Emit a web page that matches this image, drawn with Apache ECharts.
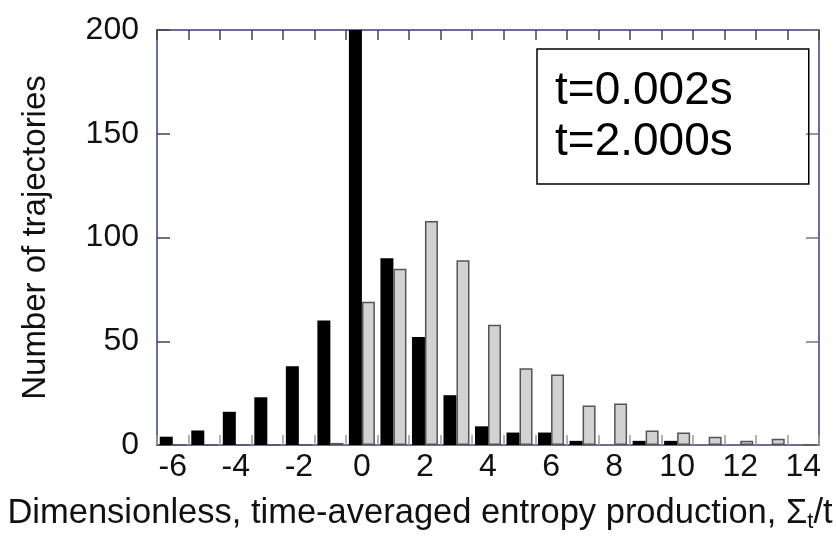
<!DOCTYPE html>
<html>
<head>
<meta charset="utf-8">
<script src="https://cdn.jsdelivr.net/npm/echarts@6/dist/echarts.min.js"></script>
<style>
  html, body { margin: 0; padding: 0; background: #fff; }
  #chart { width: 836px; height: 538px; }
</style>
</head>
<body>
<div id="chart"></div>
<script>
// Bin centres of the histogram (dimensionless entropy production)
const categories = ['-6','-5','-4','-3','-2','-1','0','1','2','3','4','5','6','7','8','9','10','11','12','13','14'];
// Number of trajectories per bin, t = 0.002 s (black)
const shortTime = [4, 7, 16, 23, 38, 60, 200, 90, 52, 24, 9, 6, 6, 2, 0, 2, 2, 0, 0, 0, 0];
// Number of trajectories per bin, t = 2.000 s (grey)
const longTime  = [0, 0, 0, 0, 0, 1, 69, 85, 108, 89, 58, 37, 34, 19, 20, 7, 6, 4, 2, 3, 0];
const seriesNames = ['t=0.002s', 't=2.000s'];
const yTicks = { min: 0, max: 200, interval: 50 };

const FONT = '"Liberation Sans", Arial, Helvetica, sans-serif';
const FRAME = '#6c6c9c';

const chart = echarts.init(document.getElementById('chart'), null, { renderer: 'canvas' });
chart.setOption({
  backgroundColor: '#ffffff',
  animation: false,
  grid: { left: 157, right: 17, top: 30, bottom: 90, containLabel: false },
  legend: {
    data: seriesNames,
    orient: 'vertical',
    left: 537,
    top: 49,
    icon: 'none',
    itemWidth: 0,
    itemHeight: 0,
    itemGap: 3,
    padding: [18, 76, 18, 13],
    borderColor: '#000',
    borderWidth: 1.5,
    selectedMode: false,
    textStyle: { fontFamily: FONT, fontSize: 46, lineHeight: 48, color: '#000' }
  },
  xAxis: [
    {
      type: 'category',
      data: categories,
      position: 'bottom',
      boundaryGap: true,
      name: '{n|Dimensionless, time-averaged entropy production, Σ}{s|t}{n|/t}',
      nameLocation: 'middle',
      nameGap: 48,
      nameTextStyle: {
        padding: [0, 136, 0, 0],
        rich: {
          n: { fontFamily: FONT, fontSize: 34.5, lineHeight: 40, color: '#111' },
          s: { fontFamily: FONT, fontSize: 22, lineHeight: 16, verticalAlign: 'bottom', color: '#111' }
        }
      },
      axisLine: { show: true, onZero: false, lineStyle: { color: FRAME, width: 2 } },
      axisTick: { show: true, inside: true, length: 10, interval: 0, lineStyle: { color: '#999', width: 1.5 } },
      axisLabel: { interval: 1, margin: 6, fontFamily: FONT, fontSize: 32, color: '#111' },
      splitLine: { show: false }
    },
    {
      type: 'category',
      data: categories,
      position: 'top',
      boundaryGap: true,
      axisLine: { show: true, onZero: false, lineStyle: { color: FRAME, width: 2 } },
      axisTick: { show: true, inside: true, length: 10, interval: 0, lineStyle: { color: '#444', width: 1.5 } },
      axisLabel: { show: false },
      splitLine: { show: false }
    }
  ],
  yAxis: [
    {
      type: 'value',
      position: 'left',
      min: yTicks.min, max: yTicks.max, interval: yTicks.interval,
      name: 'Number of trajectories',
      nameLocation: 'middle',
      nameRotate: 90,
      nameGap: 105,
      nameTextStyle: { fontFamily: FONT, fontSize: 33, color: '#111' },
      axisLine: { show: true, onZero: false, lineStyle: { color: FRAME, width: 2 } },
      axisTick: { show: true, inside: true, length: 13, lineStyle: { color: '#444', width: 1.5 } },
      axisLabel: { margin: 18, fontFamily: FONT, fontSize: 32, color: '#111' },
      splitLine: { show: false }
    },
    {
      type: 'value',
      position: 'right',
      min: yTicks.min, max: yTicks.max, interval: yTicks.interval,
      axisLine: { show: true, onZero: false, lineStyle: { color: FRAME, width: 2 } },
      axisTick: { show: true, inside: true, length: 13, lineStyle: { color: '#777', width: 1.5 } },
      axisLabel: { show: false },
      splitLine: { show: false }
    }
  ],
  series: [
    {
      name: seriesNames[0],
      type: 'bar',
      xAxisIndex: 0, yAxisIndex: 0,
      data: shortTime,
      barWidth: 13,
      barGap: '0%',
      itemStyle: { color: '#000' }
    },
    {
      name: seriesNames[1],
      type: 'bar',
      xAxisIndex: 0, yAxisIndex: 0,
      data: longTime,
      barWidth: 13,
      barGap: '0%',
      itemStyle: { color: '#d2d2d2', borderColor: '#555', borderWidth: 1.5 }
    }
  ]
});
</script>
</body>
</html>
